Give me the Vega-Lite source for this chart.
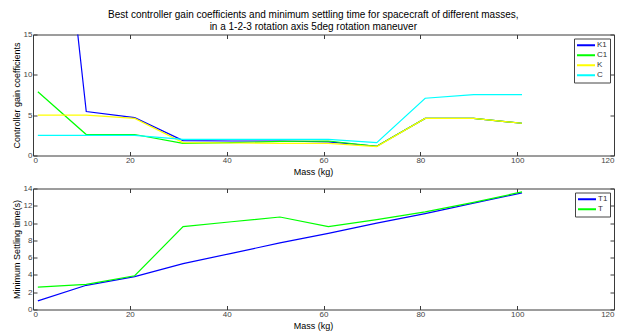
{
  "$schema": "https://vega.github.io/schema/vega-lite/v6.json",
  "background": "white",
  "padding": {"left": 11, "top": 9.5, "right": 0, "bottom": 0},
  "title": {
    "text": ["Best controller gain coefficients and minimum settling time for spacecraft of different masses,", "in a 1-2-3 rotation axis 5deg rotation maneuver"],
    "fontSize": 10, "fontWeight": "normal", "font": "Liberation Sans", "color": "#000",
    "anchor": "middle", "frame": "bounds", "offset": -2, "lineHeight": 12.5
  },
  "config": {
    "font": "Liberation Sans",
    "view": {"stroke": "#3a3a3a", "strokeWidth": 1},
    "axis": {
      "grid": false, "domain": false, "tickSize": -4, "tickColor": "#3a3a3a",
      "labelFontSize": 8, "labelColor": "#444", "labelPadding": 5,
      "titleFontSize": 9, "titleFontWeight": "normal", "titleColor": "#000"
    },
    "legend": {
      "orient": "top-right", "offset": 4, "title": null,
      "symbolType": "stroke", "symbolSize": 324, "symbolStrokeWidth": 2,
      "labelFontSize": 8, "labelColor": "#333", "labelOffset": 1,
      "strokeColor": "#444", "fillColor": "white", "padding": 2, "rowPadding": 0, "clipHeight": 9.5
    }
  },
  "datasets": {
    "gains": [
      {"mass": 1, "series": "K1", "value": 60},
      {"mass": 11, "series": "K1", "value": 5.45},
      {"mass": 21, "series": "K1", "value": 4.7},
      {"mass": 31, "series": "K1", "value": 1.85},
      {"mass": 41, "series": "K1", "value": 1.8},
      {"mass": 51, "series": "K1", "value": 1.8},
      {"mass": 61, "series": "K1", "value": 1.7},
      {"mass": 71, "series": "K1", "value": 1.15},
      {"mass": 81, "series": "K1", "value": 4.6},
      {"mass": 91, "series": "K1", "value": 4.6},
      {"mass": 101, "series": "K1", "value": 4.0},
      {"mass": 1, "series": "C1", "value": 7.9},
      {"mass": 11, "series": "C1", "value": 2.6},
      {"mass": 21, "series": "C1", "value": 2.6},
      {"mass": 31, "series": "C1", "value": 1.5},
      {"mass": 41, "series": "C1", "value": 1.6},
      {"mass": 51, "series": "C1", "value": 1.75},
      {"mass": 61, "series": "C1", "value": 1.8},
      {"mass": 71, "series": "C1", "value": 1.15},
      {"mass": 81, "series": "C1", "value": 4.6},
      {"mass": 91, "series": "C1", "value": 4.6},
      {"mass": 101, "series": "C1", "value": 4.0},
      {"mass": 1, "series": "K", "value": 5.0},
      {"mass": 11, "series": "K", "value": 5.0},
      {"mass": 21, "series": "K", "value": 4.6},
      {"mass": 31, "series": "K", "value": 1.6},
      {"mass": 41, "series": "K", "value": 1.55},
      {"mass": 51, "series": "K", "value": 1.5},
      {"mass": 61, "series": "K", "value": 1.5},
      {"mass": 71, "series": "K", "value": 1.1},
      {"mass": 81, "series": "K", "value": 4.6},
      {"mass": 91, "series": "K", "value": 4.6},
      {"mass": 101, "series": "K", "value": 4.0},
      {"mass": 1, "series": "C", "value": 2.5},
      {"mass": 11, "series": "C", "value": 2.5},
      {"mass": 21, "series": "C", "value": 2.5},
      {"mass": 31, "series": "C", "value": 2.0},
      {"mass": 41, "series": "C", "value": 2.0},
      {"mass": 51, "series": "C", "value": 2.0},
      {"mass": 61, "series": "C", "value": 2.0},
      {"mass": 71, "series": "C", "value": 1.6},
      {"mass": 81, "series": "C", "value": 7.1},
      {"mass": 91, "series": "C", "value": 7.55},
      {"mass": 101, "series": "C", "value": 7.55}
    ],
    "times": [
      {"mass": 1, "series": "T1", "value": 1.0},
      {"mass": 11, "series": "T1", "value": 2.8},
      {"mass": 21, "series": "T1", "value": 3.8},
      {"mass": 31, "series": "T1", "value": 5.3},
      {"mass": 41, "series": "T1", "value": 6.5},
      {"mass": 51, "series": "T1", "value": 7.7},
      {"mass": 61, "series": "T1", "value": 8.8},
      {"mass": 71, "series": "T1", "value": 10.0},
      {"mass": 81, "series": "T1", "value": 11.1},
      {"mass": 91, "series": "T1", "value": 12.3},
      {"mass": 101, "series": "T1", "value": 13.5},
      {"mass": 1, "series": "T", "value": 2.6},
      {"mass": 11, "series": "T", "value": 2.9},
      {"mass": 21, "series": "T", "value": 3.9},
      {"mass": 31, "series": "T", "value": 9.6},
      {"mass": 41, "series": "T", "value": 10.15},
      {"mass": 51, "series": "T", "value": 10.7},
      {"mass": 61, "series": "T", "value": 9.6},
      {"mass": 71, "series": "T", "value": 10.4},
      {"mass": 81, "series": "T", "value": 11.3},
      {"mass": 91, "series": "T", "value": 12.4},
      {"mass": 101, "series": "T", "value": 13.6}
    ]
  },
  "bounds": "flush",
  "spacing": 33,
  "resolve": {"scale": {"color": "independent"}},
  "vconcat": [
    {
      "width": 581, "height": 121,
      "data": {"name": "gains"},
      "layer": [
        {
          "mark": {"type": "line", "clip": true, "strokeWidth": 1.2},
          "encoding": {
            "x": {"field": "mass", "type": "quantitative", "scale": {"domain": [0, 120], "nice": false},
                  "axis": {"title": "Mass (kg)", "values": [0, 20, 40, 60, 80, 100, 120], "titlePadding": 3, "titleX": 280}},
            "y": {"field": "value", "type": "quantitative", "scale": {"domain": [0, 15], "nice": false},
                  "axis": {"title": "Controller gain coefficients", "values": [0, 5, 10, 15], "titlePadding": 2}},
            "color": {"field": "series", "type": "nominal", "sort": null,
                      "scale": {"domain": ["K1", "C1", "K", "C"], "range": ["#0000ff", "#00ff00", "#ffff00", "#00ffff"]}}
          }
        },
        {
          "mark": {"type": "point", "clip": true, "opacity": 0},
          "encoding": {
            "x": {"field": "mass", "type": "quantitative", "scale": {"domain": [0, 120], "nice": false},
                  "axis": {"orient": "top", "title": null, "labels": false, "values": [0, 20, 40, 60, 80, 100, 120]}},
            "y": {"field": "value", "type": "quantitative", "scale": {"domain": [0, 15], "nice": false},
                  "axis": {"orient": "right", "title": null, "labels": false, "values": [0, 5, 10, 15]}}
          }
        }
      ],
      "resolve": {"axis": {"x": "independent", "y": "independent"}}
    },
    {
      "width": 581, "height": 121,
      "data": {"name": "times"},
      "layer": [
        {
          "mark": {"type": "line", "clip": true, "strokeWidth": 1.2},
          "encoding": {
            "x": {"field": "mass", "type": "quantitative", "scale": {"domain": [0, 120], "nice": false},
                  "axis": {"title": "Mass (kg)", "values": [0, 20, 40, 60, 80, 100, 120], "titlePadding": 3, "titleX": 280}},
            "y": {"field": "value", "type": "quantitative", "scale": {"domain": [0, 14], "nice": false},
                  "axis": {"title": "Minimum Settling time(s)", "values": [0, 2, 4, 6, 8, 10, 12, 14], "titlePadding": 2}},
            "color": {"field": "series", "type": "nominal", "sort": null,
                      "scale": {"domain": ["T1", "T"], "range": ["#0000ff", "#00ff00"]}}
          }
        },
        {
          "mark": {"type": "point", "clip": true, "opacity": 0},
          "encoding": {
            "x": {"field": "mass", "type": "quantitative", "scale": {"domain": [0, 120], "nice": false},
                  "axis": {"orient": "top", "title": null, "labels": false, "values": [0, 20, 40, 60, 80, 100, 120]}},
            "y": {"field": "value", "type": "quantitative", "scale": {"domain": [0, 14], "nice": false},
                  "axis": {"orient": "right", "title": null, "labels": false, "values": [0, 2, 4, 6, 8, 10, 12, 14]}}
          }
        }
      ],
      "resolve": {"axis": {"x": "independent", "y": "independent"}}
    }
  ]
}
